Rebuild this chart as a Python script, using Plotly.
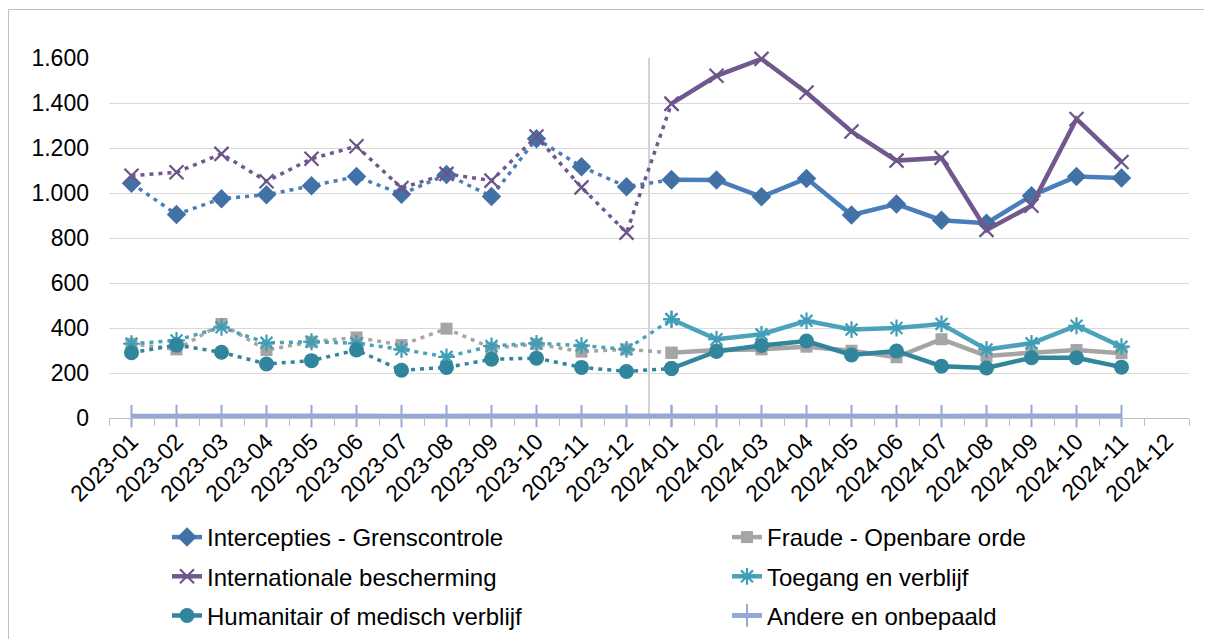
import plotly.graph_objects as go

months = ["2023-01","2023-02","2023-03","2023-04","2023-05","2023-06","2023-07","2023-08",
          "2023-09","2023-10","2023-11","2023-12","2024-01","2024-02","2024-03","2024-04",
          "2024-05","2024-06","2024-07","2024-08","2024-09","2024-10","2024-11","2024-12"]

intercepties = [1043, 905, 975, 992, 1032, 1073, 995, 1082, 985, 1241, 1117, 1028,
                1059, 1058, 983, 1065, 902, 951, 879, 866, 988, 1073, 1067]
fraude = [330, 305, 418, 302, 339, 358, 324, 397, 311, 328, 295, 305,
          290, 302, 305, 317, 299, 270, 350, 276, 290, 302, 288]
internationale = [1077, 1092, 1174, 1052, 1152, 1208, 1022, 1085, 1055, 1251, 1025, 824,
                  1397, 1521, 1596, 1447, 1273, 1144, 1156, 836, 943, 1329, 1138]
toegang = [330, 345, 403, 334, 339, 332, 305, 272, 320, 332, 322, 305,
           439, 350, 372, 432, 393, 400, 418, 305, 332, 410, 317]
humanitair = [290, 324, 292, 240, 255, 302, 212, 225, 261, 266, 225, 207,
              220, 296, 322, 342, 280, 298, 230, 222, 268, 268, 226]
andere = [8, 9, 9, 8, 8, 9, 8, 9, 8, 9, 8, 9,
          9, 8, 9, 8, 9, 8, 8, 9, 9, 8, 9]

series = [
    ("Intercepties - Grenscontrole", intercepties, "#4A7EBB", "#4271A6", "diamond", 15, None, "legend"),
    ("Fraude - Openbare orde", fraude, "#A5A5A5", "#A5A5A5", "square", 12, None, "legend2"),
    ("Internationale bescherming", internationale, "#71588F", "#6B5589", "x-thin-open", 14, 2.2, "legend"),
    ("Toegang en verblijf", toegang, "#4AA3BA", "#3F9DB5", "asterisk-open", 14, 2.2, "legend2"),
    ("Humanitair of medisch verblijf", humanitair, "#31859C", "#31859C", "circle", 15, None, "legend"),
    ("Andere en onbepaald", andere, "#95A9D6", "#95A9D6", "line-ns-open", 16, 2, "legend2"),
]

fig = go.Figure()
split = 12
for name, vals, lc, mc, sym, size, mlw, leg in series:
    marker = dict(symbol=sym, size=size, color=mc)
    if mlw is not None:
        marker["line"] = dict(color=mc, width=mlw)
    lw = 5 if name == "Andere en onbepaald" else 3.5
    dash = "solid" if name == "Andere en onbepaald" else "4px,5px"
    fig.add_trace(go.Scatter(
        x=months[:split + 1], y=vals[:split + 1], mode="lines+markers",
        line=dict(color=lc, width=lw, dash=dash), marker=marker,
        showlegend=False, legendgroup=name, name=name, cliponaxis=False))
    fig.add_trace(go.Scatter(
        x=months[split:len(vals)], y=vals[split:], mode="lines+markers",
        line=dict(color=lc, width=4.5 if lw < 5 else 5), marker=marker,
        showlegend=True, legendgroup=name, name=name, legend=leg, cliponaxis=False))

# page is offset by the default 8px body margin
OFF = 8
W, H = 1212 - OFF, 639 - OFF
L, R, T = 109 - OFF, 1212 - 1189, 58 - OFF
B = H - (418 - OFF)
pw, ph = W - L - R, H - T - B

def px_x(px):
    return (px - OFF - L) / pw

def px_y(py):
    return (H - B - (py - OFF)) / ph

legend_common = dict(orientation="v", font=dict(family="Liberation Sans, Arial", size=24, color="#000000"),
                     bgcolor="rgba(0,0,0,0)", tracegroupgap=5, yanchor="top", xanchor="left",
                     xref="container", yref="container")

fig.update_layout(
    width=W, height=H,
    margin=dict(l=L, r=R, t=T, b=B, pad=0, autoexpand=False),
    paper_bgcolor="white", plot_bgcolor="white",
    separators=",.",
    font=dict(family="Liberation Sans, Arial", size=23, color="#000000"),
    xaxis=dict(type="category", categoryorder="array", categoryarray=months,
               range=[-0.5, 23.5], tickangle=-45, showgrid=False, zeroline=False,
               showline=True, linecolor="#BFBFBF", linewidth=1,
               ticks="outside", tickson="boundaries", ticklen=7, tickcolor="#BFBFBF",
               tickfont=dict(size=23)),
    yaxis=dict(range=[0, 1600], tickvals=[0, 200, 400, 600, 800, 1000, 1200, 1400, 1600],
               tickformat=",d", showgrid=True, gridcolor="#D9D9D9", gridwidth=1,
               zeroline=False, showline=False, ticks="", ticklabelstandoff=19,
               tickfont=dict(size=23)),
    legend=dict(x=(208 - 41 - OFF) / W, y=1 - (515 - OFF) / H, **legend_common),
    legend2=dict(x=(768 - 41 - OFF) / W, y=1 - (515 - OFF) / H, **legend_common),
    shapes=[
        dict(type="line", xref="x", yref="y", x0=11.5, x1=11.5, y0=0, y1=1600,
             line=dict(color="#A6A6A6", width=1), layer="below"),
        dict(type="rect", xref="paper", yref="paper",
             x0=px_x(8.5), x1=px_x(1208.5), y0=px_y(650), y1=px_y(9.5),
             line=dict(color="#BFBFBF", width=1), fillcolor="rgba(0,0,0,0)", layer="below"),
    ],
)

fig.write_html("out.html")
